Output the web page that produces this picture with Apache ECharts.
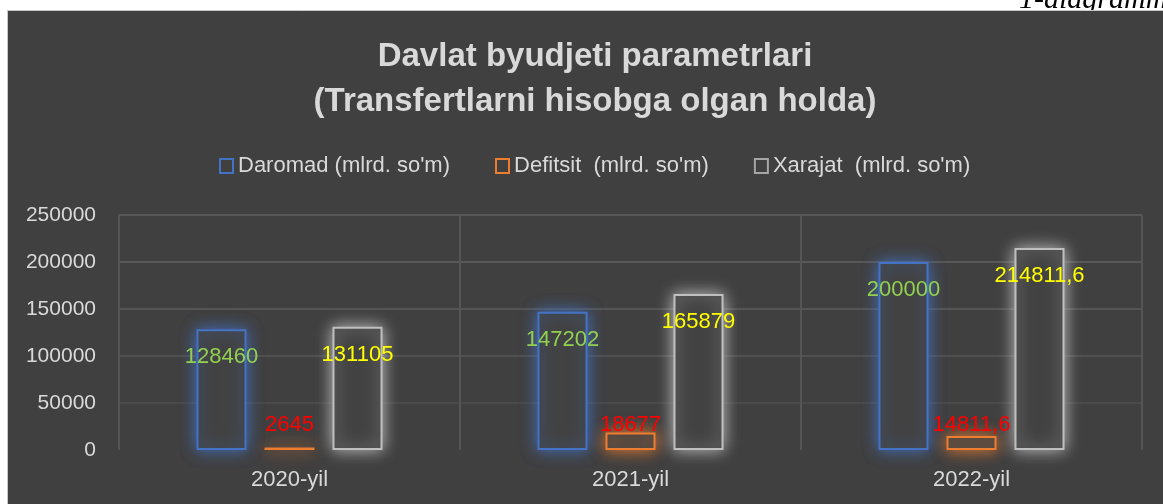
<!DOCTYPE html>
<html><head><meta charset="utf-8">
<script src="https://cdn.jsdelivr.net/npm/echarts@6/dist/echarts.min.js"></script>
<style>html,body{margin:0;padding:0;background:#fff}#c{width:1163px;height:504px}</style>
</head><body><div id="c"></div>
<script>
const categories = ['2020-yil', '2021-yil', '2022-yil'];
const seriesNames = ["Daromad (mlrd. so'm)", "Defitsit  (mlrd. so'm)", "Xarajat  (mlrd. so'm)"];
const daromad = [128460, 147202, 200000];
const defitsit = [2645, 18677, 14811.6];
const xarajat = [131105, 165879, 214811.6];
const yTicks = { min: 0, max: 250000, interval: 50000 };

const fmt = p => String(p.value).replace('.', ',');
const FONT = 'Liberation Sans';
const chart = echarts.init(document.getElementById('c'), null, { renderer: 'canvas' });

function barSeries(name, data, stroke, glow, labelColor, labelPos, labelDist) {
  return {
    name, type: 'bar', data,
    barWidth: 50, barGap: '36%',
    itemStyle: { color: '#424242', borderColor: stroke, borderWidth: 2, shadowBlur: 16, shadowColor: glow },
    label: { show: true, position: labelPos, distance: labelDist, color: labelColor, fontFamily: FONT, fontSize: 22, formatter: fmt },
    z: 3
  };
}

chart.setOption({
  backgroundColor: '#ffffff',
  animation: false,
  graphic: [
    { type: 'text', z: -20, x: 1019, y: 0, style: { text: '1-diagramma', fill: '#000', font: 'italic 30px "Liberation Serif"', verticalAlign: 'middle' } },
    { type: 'rect', z: -10, silent: true, shape: { x: 7.5, y: 10.5, width: 1160, height: 500 }, style: { fill: '#404040', stroke: '#c8c8c8', lineWidth: 1 } }
  ],
  title: {
    text: 'Davlat byudjeti parametrlari\n(Transfertlarni hisobga olgan holda)',
    left: 590, textAlign: 'center', top: 29,
    textStyle: { color: '#d9d9d9', fontFamily: FONT, fontWeight: 'bold', fontSize: 33, lineHeight: 45 }
  },
  legend: {
    top: 150, left: 214,
    itemWidth: 13, itemHeight: 14, itemGap: 45,
    textStyle: { color: '#d9d9d9', fontFamily: FONT, fontSize: 22 },
    data: [
      { name: seriesNames[0], icon: 'rect', itemStyle: { color: 'rgba(0,0,0,0)', borderColor: '#4472c4', borderWidth: 2, shadowBlur: 0 } },
      { name: seriesNames[1], icon: 'rect', itemStyle: { color: 'rgba(0,0,0,0)', borderColor: '#ed7d31', borderWidth: 2, shadowBlur: 0 } },
      { name: seriesNames[2], icon: 'rect', itemStyle: { color: 'rgba(0,0,0,0)', borderColor: '#a5a5a5', borderWidth: 2, shadowBlur: 0 } }
    ]
  },
  grid: { left: 119, right: 21, top: 215, bottom: 54 },
  xAxis: {
    type: 'category', data: categories,
    axisLine: { show: false }, axisTick: { show: false },
    axisLabel: { color: '#d9d9d9', fontFamily: FONT, fontSize: 22, margin: 19 },
    splitLine: { show: true, lineStyle: { color: '#555555', width: 2 } }
  },
  yAxis: {
    type: 'value', min: yTicks.min, max: yTicks.max, interval: yTicks.interval,
    axisLine: { show: false }, axisTick: { show: false },
    axisLabel: { color: '#d9d9d9', fontFamily: FONT, fontSize: 21, margin: 23, formatter: v => String(v) },
    splitLine: { show: true, lineStyle: { width: 2, color: ['rgba(0,0,0,0)', '#4a4a4a', '#505050', '#555555', '#585858', '#585858'] } }
  },
  series: [
    barSeries(seriesNames[0], daromad, '#4472c4', 'rgba(68,114,196,1)', '#92d050', 'insideTop', 17),
    barSeries(seriesNames[1], defitsit, '#ed7d31', 'rgba(237,125,49,1)', '#ff0000', 'insideBottom', 14),
    barSeries(seriesNames[2], xarajat, '#bfbfbf', 'rgba(210,210,210,0.9)', '#ffff00', 'insideTop', 17)
  ]
});
</script></body></html>
